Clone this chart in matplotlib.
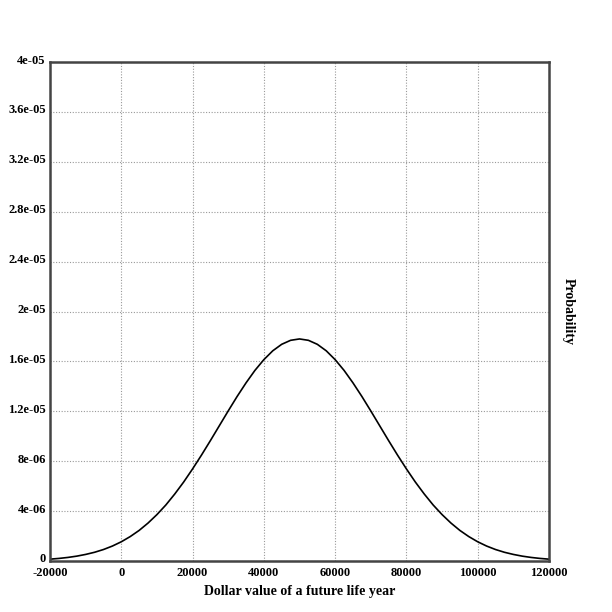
import numpy as np
import matplotlib.pyplot as plt
import matplotlib.transforms as mtransforms

plt.rcParams['font.family'] = ['Liberation Serif', 'DejaVu Serif']
plt.rcParams['font.weight'] = 'bold'

# dollar value (x) and probability density (y)
dollar = np.arange(-20000, 120001, 2500)
prob = [1.47e-7, 2.06e-7, 2.85e-7, 3.89e-7, 5.27e-7, 6.99e-7, 9.2e-7, 1.198e-6,
        1.54e-6, 1.957e-6, 2.45e-6, 3.04e-6, 3.72e-6, 4.49e-6, 5.37e-6, 6.33e-6,
        7.38e-6, 8.49e-6, 9.65e-6, 1.084e-5, 1.203e-5, 1.319e-5, 1.428e-5, 1.528e-5,
        1.614e-5, 1.685e-5, 1.737e-5, 1.769e-5, 1.78e-5,
        1.769e-5, 1.737e-5, 1.685e-5, 1.614e-5, 1.528e-5, 1.428e-5, 1.319e-5,
        1.203e-5, 1.084e-5, 9.65e-6, 8.49e-6, 7.38e-6, 6.33e-6, 5.37e-6, 4.49e-6,
        3.72e-6, 3.04e-6, 2.45e-6, 1.957e-6, 1.54e-6, 1.198e-6, 9.2e-7, 6.99e-7,
        5.27e-7, 3.89e-7, 2.85e-7, 2.06e-7, 1.47e-7]

xticks = [-20000, 0, 20000, 40000, 60000, 80000, 100000, 120000]
yticks = [0, 4e-6, 8e-6, 1.2e-5, 1.6e-5, 2e-5, 2.4e-5, 2.8e-5, 3.2e-5, 3.6e-5, 4e-5]
ylabels = ['0', '4e-06', '8e-06', '1.2e-05', '1.6e-05', '2e-05', '2.4e-05',
           '2.8e-05', '3.2e-05', '3.6e-05', '4e-05']

fig = plt.figure(figsize=[6.12, 6.12], dpi=100)
ax = fig.add_axes([50/612, 1 - 561/612, 499/612, 499/612])
ax.plot(dollar, prob, color='black', lw=1.2)
ax.set_xlim(-20000, 120000)
ax.set_ylim(0, 4e-5)
ax.set_xticks(xticks)
ax.set_xticklabels([str(v) for v in xticks])
ax.set_yticks(yticks)
ax.set_yticklabels(ylabels)
ax.tick_params(length=0, labelsize=9)
ax.tick_params(axis='x', pad=4)
ax.tick_params(axis='y', pad=3)
shift = mtransforms.ScaledTranslation(0, 3/100, fig.dpi_scale_trans)
for lab in ax.get_yticklabels():
    lab.set_transform(lab.get_transform() + shift)
for lab in ax.get_xticklabels() + ax.get_yticklabels():
    lab.set_fontweight('bold')
ax.grid(True, linestyle=(0, (1, 1.5)), color='#999999', lw=0.8)
for sp in ax.spines.values():
    sp.set_linewidth(1.8)
    sp.set_color('#444444')

fig.text(300/612, 1 - 591/612, 'Dollar value of a future life year',
         ha='center', va='center', fontsize=10, fontweight='bold')
fig.text(568/612, 1 - 311/612, 'Probability', rotation=-90,
         ha='center', va='center', fontsize=10, fontweight='bold')

fig.savefig('out.png', dpi=100, facecolor='white')
